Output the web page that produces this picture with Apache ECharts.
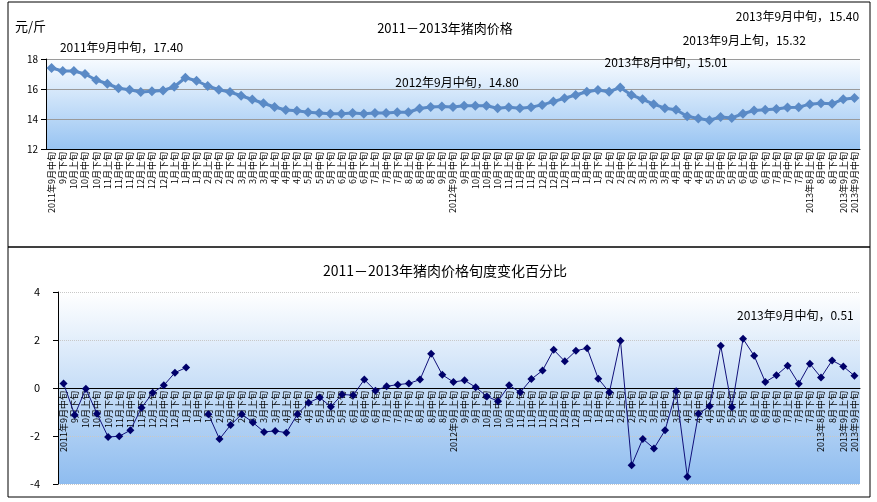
<!DOCTYPE html>
<html><head><meta charset="utf-8">
<script src="https://cdn.jsdelivr.net/npm/echarts@6/dist/echarts.min.js"></script>
<style>html,body{margin:0;padding:0;background:#fff}#c{width:877px;height:502px}</style>
</head><body><div id="c"></div>
<script>
const categories = [
'2011年9月中旬','9月下旬','10月上旬','10月中旬','10月下旬','11月上旬','11月中旬','11月下旬','12月上旬','12月中旬','12月下旬',
'1月上旬','1月中旬','1月下旬','2月上旬','2月中旬','2月下旬','3月上旬','3月中旬','3月下旬','4月上旬','4月中旬','4月下旬',
'5月上旬','5月中旬','5月下旬','6月上旬','6月中旬','6月下旬','7月上旬','7月中旬','7月下旬','8月上旬','8月中旬','8月下旬',
'9月上旬','2012年9月中旬','9月下旬','10月上旬','10月中旬','10月下旬','11月上旬','11月中旬','11月下旬','12月上旬','12月中旬','12月下旬',
'1月上旬','1月中旬','1月下旬','2月上旬','2月中旬','2月下旬','3月上旬','3月中旬','3月下旬','4月上旬','4月中旬','4月下旬',
'5月上旬','5月中旬','5月下旬','6月上旬','6月中旬','6月下旬','7月上旬','7月中旬','7月下旬','2013年8月上旬','8月中旬','8月下旬',
'2013年9月上旬','2013年9月中旬'];
const bottomCategories = [
'2011年9月中旬','9月下旬','10月上旬','10月中旬','10月下旬','11月上旬','11月中旬','11月下旬','12月上旬','12月中旬','12月下旬',
'1月上旬','1月中旬','1月下旬','2月上旬','2月中旬','2月下旬','3月上旬','3月中旬','3月下旬','4月上旬','4月中旬','4月下旬',
'5月上旬','5月中旬','5月下旬','6月上旬','6月中旬','6月下旬','7月上旬','7月中旬','7月下旬','8月上旬','8月中旬','8月下旬',
'2012年9月上旬','9月中旬','9月下旬','10月上旬','10月中旬','10月下旬','11月上旬','11月中旬','11月下旬','12月上旬','12月中旬','12月下旬',
'1月上旬','1月中旬','1月下旬','2月上旬','2月中旬','2月下旬','3月上旬','3月中旬','3月下旬','4月上旬','4月中旬','4月下旬',
'5月上旬','5月中旬','5月下旬','6月上旬','6月中旬','6月下旬','7月上旬','7月中旬','7月下旬','2013年8月中旬','8月下旬',
'2013年9月上旬','2013年9月中旬'];
const priceValues = [17.4,17.2,17.2,17.0,16.6,16.35,16.05,15.95,15.8,15.85,
15.9,16.15,16.75,16.55,16.2,15.95,15.8,15.55,15.3,15.05,
14.8,14.6,14.55,14.45,14.4,14.35,14.35,14.4,14.35,14.4,
14.4,14.45,14.45,14.7,14.8,14.83,14.80,14.88,14.88,14.88,
14.72,14.79,14.72,14.79,14.94,15.16,15.38,15.6,15.82,15.93,
15.82,16.1,15.6,15.31,14.99,14.72,14.62,14.18,14.03,13.92,
14.14,14.07,14.35,14.57,14.62,14.66,14.77,14.79,14.99,15.05,
15.01,15.32,15.40];
const changeValues = [0.19,-1.12,-0.03,-1.07,-2.04,-2.01,-1.76,-0.82,-0.2,0.11,0.64,0.85,null,
-1.09,-2.13,-1.54,-1.09,-1.44,-1.83,-1.79,-1.86,-1.09,-0.61,-0.4,-0.78,-0.27,-0.3,0.35,-0.11,0.07,
0.14,0.19,0.35,1.43,0.55,0.25,0.32,0.03,-0.35,-0.55,0.11,-0.18,0.37,0.73,1.59,1.11,1.55,1.66,0.39,
-0.18,1.97,-3.22,-2.12,-2.52,-1.76,-0.14,-3.7,-1.07,-0.76,1.76,-0.8,2.05,1.34,0.25,0.53,0.93,0.18,
1.01,0.44,1.15,0.9,0.51];
const priceTicks = [12,14,16,18];
const changeTicks = [-4,-2,0,2,4];
const priceNotes = [[0,'2011年9月中旬'],[36,'2012年9月中旬'],[70,'2013年8月中旬'],[71,'2013年9月上旬'],[72,'2013年9月中旬']];
const changeNotes = [[71,'2013年9月中旬']];
const priceOffsets = {0:[70,-21],36:[4,-25],70:[-166,-41],71:[-99,-59],72:[-57,-82]};
const changeOffsets = {71:[-59,-60]};

const F = '"Noto Sans CJK SC", sans-serif';
function mk(vals, notes, offs){
  return vals.map((v,i)=>{
    const n = notes.find(x=>x[0]===i);
    if(!n) return v;
    return {value:v, label:{show:true, position:'inside', offset:offs[i], color:'#000', fontSize:12, fontFamily:F,
      formatter: n[1]+'，'+v.toFixed(2)}};
  });
}
function grad(a,b){return new echarts.graphic.LinearGradient(0,0,0,1,[{offset:0,color:a},{offset:1,color:b}]);}
const xLab = {interval:0, rotate:90, fontSize:9, color:'#000', fontFamily:F, margin:3};
const chart = echarts.init(document.getElementById('c'));
chart.setOption({
  animation:false, backgroundColor:'#fff',
  title:[
    {text:'2011－2013年猪肉价格', left:440, top:17, textAlign:'center', textStyle:{fontSize:13,fontWeight:'normal',color:'#000',fontFamily:F}},
    {text:'2011－2013年猪肉价格旬度变化百分比', left:440, top:259, textAlign:'center', textStyle:{fontSize:14,fontWeight:'normal',color:'#000',fontFamily:F}}
  ],
  graphic:[
    {type:'rect', shape:{x:8,y:2,width:862,height:245}, style:{fill:'none',stroke:'#000',lineWidth:1}},
    {type:'rect', shape:{x:8,y:247,width:862,height:250}, style:{fill:'none',stroke:'#000',lineWidth:1}},
    {type:'text', left:15, top:20, style:{text:'元/斤', fontSize:13, fill:'#000', fontFamily:F}}
  ],
  grid:[
    {left:46,right:17,top:59,height:90,show:true,borderWidth:0,outerBoundsMode:'none',containLabel:false,backgroundColor:grad('#f7fbff','#98c4f2')},
    {left:58,right:17,top:292,height:192,show:true,borderWidth:0,outerBoundsMode:'none',containLabel:false,backgroundColor:grad('#ffffff','#8ebcef')}
  ],
  xAxis:[
    {type:'category',gridIndex:0,data:categories,axisLine:{lineStyle:{color:'#000'}},axisTick:{inside:true,length:4,lineStyle:{color:'#000'}},axisLabel:xLab},
    {type:'category',gridIndex:1,data:bottomCategories,offset:-96,axisLine:{onZero:false,lineStyle:{color:'#000'}},axisTick:{inside:true,length:4,lineStyle:{color:'#000'}},axisLabel:xLab}
  ],
  yAxis:[
    {type:'value',gridIndex:0,min:priceTicks[0],max:priceTicks[3],interval:2,axisLine:{show:true,lineStyle:{color:'#000'}},axisTick:{show:true,lineStyle:{color:'#000'}},
      axisLabel:{fontSize:10,color:'#000',fontFamily:F},splitLine:{lineStyle:{color:'#9a9a9a'}}},
    {type:'value',gridIndex:1,min:changeTicks[0],max:changeTicks[4],interval:2,axisLine:{show:true,onZero:false,lineStyle:{color:'#000'}},axisTick:{show:true,lineStyle:{color:'#000'}},
      axisLabel:{fontSize:11,color:'#000',fontFamily:F,margin:18},splitLine:{lineStyle:{color:'#c8c8c8',type:'dotted'}}}
  ],
  series:[
    {type:'line',xAxisIndex:0,yAxisIndex:0,data:mk(priceValues,priceNotes,priceOffsets),symbol:'diamond',symbolSize:10,
      lineStyle:{color:'#5a8ac6',width:3},itemStyle:{color:'#5a8ac6'},z:5},
    {type:'line',xAxisIndex:1,yAxisIndex:1,data:mk(changeValues,changeNotes,changeOffsets),symbol:'diamond',symbolSize:8,connectNulls:false,
      lineStyle:{color:'#10107a',width:1},itemStyle:{color:'#00006a'},z:5}
  ]
});
</script></body></html>
